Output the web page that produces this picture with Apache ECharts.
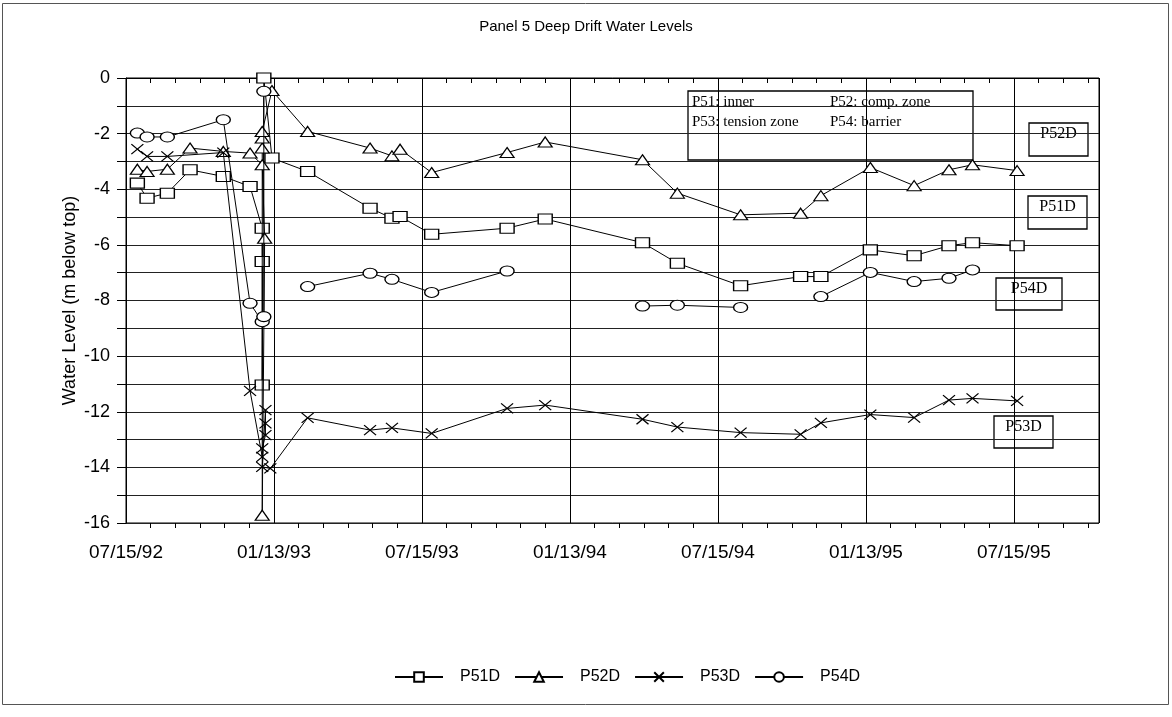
<!DOCTYPE html>
<html><head><meta charset="utf-8">
<script src="https://cdn.jsdelivr.net/npm/echarts@6/dist/echarts.min.js"></script>
<style>html,body{margin:0;padding:0;background:#fff}#c{width:1172px;height:717px}</style>
</head><body><div id="c"></div>
<script>
// ---- data ----
const startDate = '1992-07-15';
const tickLabels = ['07/15/92','01/13/93','07/15/93','01/13/94','07/15/94','01/13/95','07/15/95'];
const seriesNames = ['P51D','P52D','P53D','P54D'];

const p51Dates = ['1992-07-29','1992-08-10','1992-09-04','1992-10-02','1992-11-12','1992-12-15','1992-12-30','1992-12-30','1992-12-30','1993-01-01','1993-01-11','1993-02-24','1993-05-12','1993-06-08','1993-06-18','1993-07-27','1993-10-28','1993-12-14','1994-04-13','1994-05-26','1994-08-12','1994-10-25','1994-11-19','1995-01-19','1995-03-14','1995-04-26','1995-05-25','1995-07-19'];
const p51Values = [-3.78,-4.32,-4.14,-3.30,-3.54,-3.90,-5.40,-6.60,-11.04,0.00,-2.88,-3.36,-4.68,-5.04,-4.98,-5.62,-5.40,-5.07,-5.92,-6.66,-7.47,-7.14,-7.14,-6.18,-6.39,-6.03,-5.92,-6.03];

const p52Dates = ['1992-07-29','1992-08-10','1992-09-04','1992-10-02','1992-11-12','1992-12-15','1992-12-30','1993-01-02','1992-12-30','1992-12-30','1992-12-30','1992-12-30','1993-01-11','1993-02-24','1993-05-12','1993-06-08','1993-06-18','1993-07-27','1993-10-28','1993-12-14','1994-04-13','1994-05-26','1994-08-12','1994-10-25','1994-11-19','1995-01-19','1995-03-14','1995-04-26','1995-05-25','1995-07-19'];
const p52Values = [-3.28,-3.36,-3.28,-2.52,-2.64,-2.70,-3.12,-5.76,-15.72,-2.52,-2.16,-1.92,-0.45,-1.92,-2.52,-2.80,-2.56,-3.40,-2.68,-2.30,-2.94,-4.14,-4.92,-4.86,-4.23,-3.22,-3.87,-3.30,-3.12,-3.33];

const p53Dates = ['1992-07-29','1992-08-10','1992-09-04','1992-11-12','1992-12-15','1992-12-30','1992-12-30','1993-01-03','1993-01-03','1993-01-03','1992-12-30','1993-01-09','1993-02-24','1993-05-12','1993-06-08','1993-07-27','1993-10-28','1993-12-14','1994-04-13','1994-05-26','1994-08-12','1994-10-25','1994-11-19','1995-01-19','1995-03-14','1995-04-26','1995-05-25','1995-07-19'];
const p53Values = [-2.56,-2.82,-2.82,-2.68,-11.25,-13.62,-13.32,-12.84,-12.42,-11.94,-13.98,-14.04,-12.22,-12.66,-12.58,-12.78,-11.88,-11.76,-12.27,-12.55,-12.75,-12.81,-12.40,-12.10,-12.21,-11.58,-11.52,-11.61];

const p54Dates = ['1992-07-29','1992-08-10','1992-09-04','1992-11-12','1992-12-15','1992-12-30','1993-01-01','1993-01-01','1993-01-11','1993-02-24','1993-05-12','1993-06-08','1993-07-27','1993-10-28','1993-12-14','1994-04-13','1994-05-26','1994-08-12','1994-10-25','1994-11-19','1995-01-19','1995-03-14','1995-04-26','1995-05-25'];
const p54Values = [-1.98,-2.12,-2.12,-1.50,-8.10,-8.76,-8.58,-0.48,null,-7.50,-7.02,-7.24,-7.71,-6.94,null,-8.20,-8.17,-8.25,null,-7.86,-6.99,-7.32,-7.20,-6.90];

// ---- build ----
const DAY = 86400000;
const t0 = Date.parse(startDate);
const toDay = d => (Date.parse(d) - t0) / DAY;
function pairs(dates, values) {
  return dates.map((d, i) => [toDay(d), values[i] == null ? '-' : values[i]]);
}
const STEP = 182.5;
const FONT = 'Liberation Sans, Arial, sans-serif';
const SERIF = 'Liberation Serif, Times New Roman, serif';

const symbols = ['rect', 'triangle', 'path://M0 0L10 10M10 0L0 10', 'circle'];
const sizes = [[14,10],[14,10],[12,10],[14,10]];
const allData = [pairs(p51Dates,p51Values), pairs(p52Dates,p52Values), pairs(p53Dates,p53Values), pairs(p54Dates,p54Values)];

const chart = echarts.init(document.getElementById('c'), null, {renderer: 'canvas'});

function labelBox(x, y, w, h, text) {
  return {
    type: 'group', z: 100,
    children: [
      {type: 'rect', shape: {x: x, y: y, width: w, height: h}, style: {fill: '#fff', stroke: '#000', lineWidth: 1.3}},
      {type: 'text', style: {x: x + w / 2, y: y + 11, text: text, font: '16px ' + SERIF, fill: '#000', align: 'center', verticalAlign: 'middle'}}
    ]
  };
}

const xCommon = {
  type: 'value', min: 0, max: 1200, interval: STEP
};

chart.setOption({
  animation: false,
  backgroundColor: '#fff',
  title: {
    text: 'Panel 5 Deep Drift Water Levels', left: 'center', top: 14,
    textStyle: {fontFamily: FONT, fontSize: 15, fontWeight: 'normal', color: '#000'}
  },
  legend: {
    left: 389, top: 664, itemWidth: 48, itemHeight: 12, itemGap: 14,
    data: seriesNames,
    textStyle: {fontFamily: FONT, fontSize: 16, color: '#000', padding: [0, 0, 0, 12]}
  },
  grid: {left: 126, right: 73, top: 78, bottom: 194, show: true, borderColor: '#000', borderWidth: 1},
  xAxis: [
    Object.assign({}, xCommon, {
      axisLine: {show: true, lineStyle: {color: '#000', width: 1}},
      axisTick: {show: true, length: 9, lineStyle: {color: '#000'}},
      minorTick: {show: true, splitNumber: 6, length: 5, lineStyle: {color: '#000'}},
      splitLine: {show: true, lineStyle: {color: '#000', width: 1}},
      axisLabel: {
        margin: 20, fontFamily: FONT, fontSize: 19, color: '#000',
        formatter: v => {
          const i = Math.round(v / STEP);
          return (Math.abs(v / STEP - i) < 1e-6 && i < tickLabels.length) ? tickLabels[i] : '';
        }
      }
    }),
    Object.assign({}, xCommon, {
      position: 'bottom',
      axisLine: {show: false},
      axisTick: {show: false},
      minorTick: {show: true, splitNumber: 6, length: 5, lineStyle: {color: '#000'}},
      splitLine: {show: false},
      axisLabel: {show: false},
      axisPointer: {show: false}
    })
  ],
  yAxis: {
    type: 'value', min: -16, max: 0, interval: 2,
    name: 'Water Level (m below top)', nameLocation: 'middle', nameGap: 47, nameRotate: 90,
    nameMoveOverlap: false,
    nameTextStyle: {fontFamily: FONT, fontSize: 18, color: '#000'},
    axisLine: {show: true, lineStyle: {color: '#000'}},
    axisTick: {show: true, length: 9, lineStyle: {color: '#000'}},
    minorTick: {show: true, splitNumber: 2, length: 9, lineStyle: {color: '#000'}},
    splitLine: {show: true, lineStyle: {color: '#222', width: 1.2}},
    minorSplitLine: {show: true, lineStyle: {color: '#222', width: 1.2}},
    axisLabel: {margin: 16, fontFamily: FONT, fontSize: 18, color: '#000'}
  },
  series: seriesNames.map((name, k) => ({
    name: name, type: 'line', xAxisIndex: 0,
    data: allData[k],
    symbol: symbols[k], symbolSize: sizes[k], showAllSymbol: true,
    connectNulls: false,
    lineStyle: {color: '#000', width: 1},
    itemStyle: {color: '#fff', borderColor: '#000', borderWidth: 1.2},
    emphasis: {disabled: true},
    z: 3 + k
  })),
  graphic: [
    {type: 'rect', z: -10, silent: true, shape: {x: 2.5, y: 3.5, width: 1166, height: 701}, style: {fill: 'none', stroke: '#555', lineWidth: 1}},
    {
      type: 'group', z: 100,
      children: [
        {type: 'rect', shape: {x: 688, y: 91, width: 285, height: 69}, style: {fill: '#fff', stroke: '#000', lineWidth: 1.3}},
        {type: 'text', style: {x: 692, y: 102.5, text: 'P51: inner', font: '15px ' + SERIF, fill: '#000', verticalAlign: 'middle'}},
        {type: 'text', style: {x: 830, y: 102.5, text: 'P52: comp. zone', font: '15px ' + SERIF, fill: '#000', verticalAlign: 'middle'}},
        {type: 'text', style: {x: 692, y: 122.5, text: 'P53: tension zone', font: '15px ' + SERIF, fill: '#000', verticalAlign: 'middle'}},
        {type: 'text', style: {x: 830, y: 122.5, text: 'P54: barrier', font: '15px ' + SERIF, fill: '#000', verticalAlign: 'middle'}}
      ]
    },
    labelBox(1029, 123, 59, 33, 'P52D'),
    labelBox(1028, 196, 59, 33, 'P51D'),
    labelBox(996, 278, 66, 32, 'P54D'),
    labelBox(994, 416, 59, 32, 'P53D')
  ]
});
</script>
</body></html>
